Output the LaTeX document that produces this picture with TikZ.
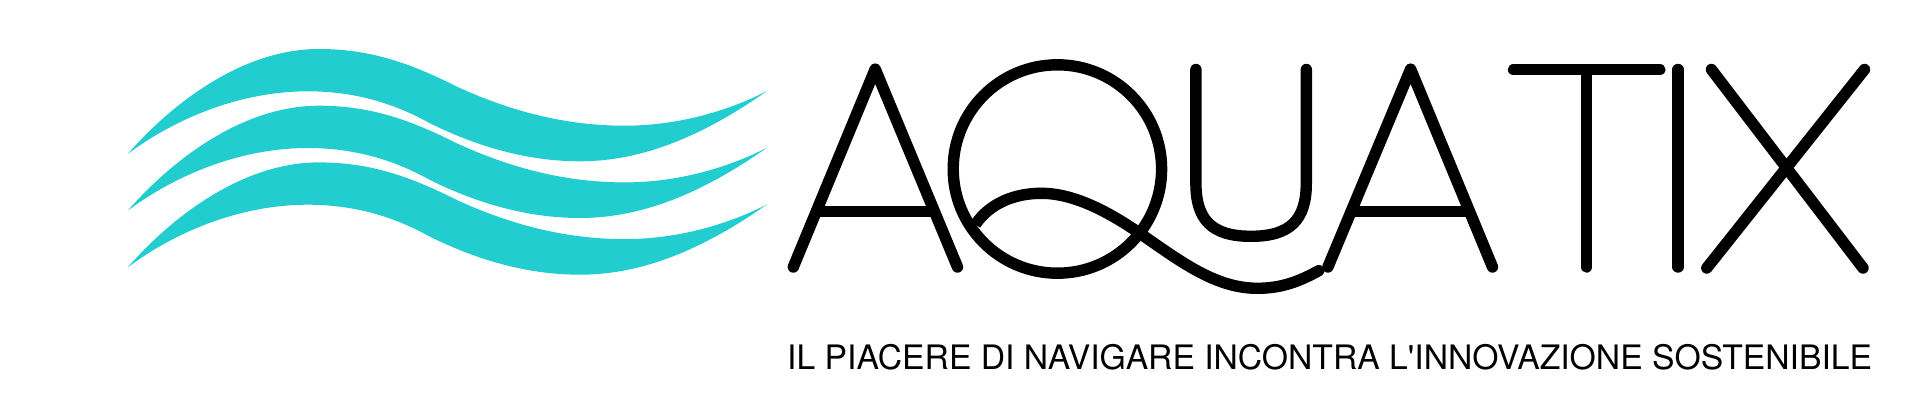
\documentclass[tikz,border=0pt]{standalone}
\usepackage{fontspec}
\newfontfamily\tagfont{TeX Gyre Heros}
\definecolor{aquateal}{HTML}{21CDCE}
\tikzset{
  wavefill/.style={fill=aquateal,draw=none},
  letterline/.style={draw=black,line width=11.4pt,line cap=round,line join=round},
  barline/.style={draw=black,line width=11.7pt,line cap=butt}
}
\begin{document}
\begin{tikzpicture}[x=1pt,y=-1pt]
\useasboundingbox (0,0) rectangle (1920,420);
\fill[white] (0,0) rectangle (1920,420);
% waves
\foreach \dy in {0,56.7,113.4}{
\path[wavefill,yshift=-\dy pt] (127.7,154)
 .. controls (175,100) and (245,49) .. (318.8,49)
 .. controls (370,49) and (410,63) .. (457,86.7)
 .. controls (510,111) and (565,125.7) .. (624.5,125.7)
 .. controls (680,125.7) and (730,110) .. (767,91)
 .. controls (700,138) and (640,161.3) .. (580,161.3)
 .. controls (530,161.3) and (480,148) .. (430,123.3)
 .. controls (390,101) and (350,91.3) .. (307.6,91.3)
 .. controls (245,91.3) and (180,115) .. (127.7,154) -- cycle;
}
% A
\draw[letterline] (793.3,267) -- (875.2,69.1) -- (957.5,267);
\draw[barline] (816,211.5) -- (934,211.5);
% Q
\draw[letterline,line cap=butt] (1057.4,169) circle [radius=104.2];
\draw[letterline,line cap=butt] (975.5,224.3)
 .. controls (990,203) and (1015,193.3) .. (1041.3,193.3)
 .. controls (1075,193.3) and (1110,213) .. (1138.9,232.7);
\draw[letterline] (1138.9,232.7)
 .. controls (1180,261) and (1215,288.3) .. (1257.5,288.3)
 .. controls (1282,288.3) and (1300,281) .. (1318.7,270.7);
% U
\draw[letterline] (1195.9,69.5) -- (1195.9,183.3)
 .. controls (1195.9,220) and (1212,236.3) .. (1251,236.3)
 .. controls (1290,236.3) and (1306.3,220) .. (1306.3,183.3) -- (1306.3,69.5);
% A
\draw[letterline] (1327.9,267) -- (1410.6,69.1) -- (1492.5,267);
\draw[barline] (1351,211.5) -- (1469,211.5);
% T
\draw[letterline] (1513.5,69.7) -- (1659.8,69.7);
\draw[letterline] (1586.6,69.7) -- (1586.6,267);
% I
\draw[letterline] (1678.1,69.5) -- (1678.1,267);
% X
\draw[letterline] (1711.4,69.5) -- (1863,268);
\draw[letterline] (1864.5,69.5) -- (1706.8,268);
% tagline
\node[anchor=base west,inner sep=0pt,font=\tagfont\fontsize{33.7}{40}\selectfont] (tag) at (787,369.5)
 {IL PIACERE DI NAVIGARE INCONTRA L'INNOVAZIONE SOSTENIBILE};
\end{tikzpicture}
\end{document}
